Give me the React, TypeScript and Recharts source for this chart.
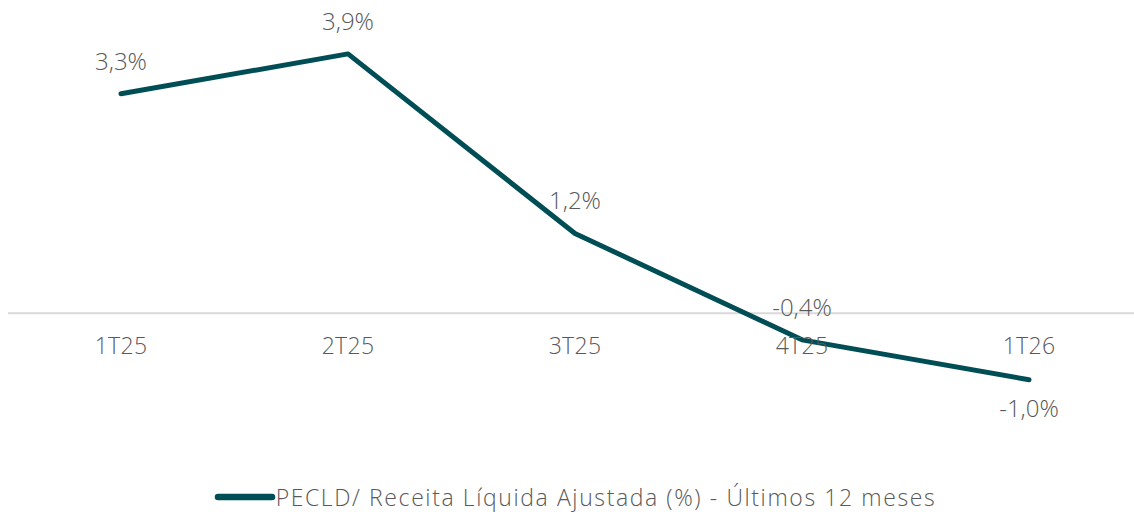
import React from 'react';
import { LineChart, Line, XAxis, YAxis, ReferenceLine, LabelList, Legend } from 'recharts';

const categories = ['1T25', '2T25', '3T25', '4T25', '1T26'];
const values = [3.3, 3.9, 1.2, -0.4, -1.0];
const seriesName = 'PECLD/ Receita Líquida Ajustada (%) - Últimos 12 meses';

const data = categories.map((c, i) => ({ cat: c, v: values[i], base: 0 }));

const FONT = "'Open Sans', sans-serif";
const TEXT = '#595959';
const LINE = '#004E55';

const fmt = (v: number) => v.toFixed(1).replace('.', ',') + '%';

const ValueLabel = (props: any) => {
  const { x, y, value, index } = props;
  const below = index === values.length - 1;
  return (
    <text
      x={x}
      y={below ? y + 37 : y - 24}
      textAnchor="middle"
      fill={TEXT}
      fontFamily={FONT}
      fontWeight={300}
      fontSize={24}
    >
      {fmt(value)}
    </text>
  );
};

const CatLabel = (props: any) => {
  const { x, y, index } = props;
  return (
    <text x={x} y={y + 41} textAnchor="middle" fill={TEXT} fontFamily={FONT} fontWeight={300} fontSize={23} letterSpacing={0.3}>
      {categories[index]}
    </text>
  );
};

const LegendContent = () => (
  <div style={{ display: 'flex', justifyContent: 'center', alignItems: 'center', height: 28 }}>
    <svg width={62} height={10} style={{ marginRight: 0 }}>
      <line x1={4} y1={5} x2={58} y2={5} stroke={LINE} strokeWidth={6.5} strokeLinecap="round" />
    </svg>
    <span style={{ fontFamily: FONT, fontWeight: 300, fontSize: 23, lineHeight: '28px', letterSpacing: 1.6, color: TEXT, whiteSpace: 'nowrap' }}>{seriesName}</span>
  </div>
);

export default function App() {
  return (
    <div style={{ position: 'absolute', left: 0, top: 0, width: 1134, height: 512, overflow: 'hidden', background: '#fff' }}>
      <LineChart width={1142} height={512} data={data} margin={{ top: 14, right: 0, bottom: 71, left: 8 }}>
        <XAxis dataKey="cat" hide padding={{ left: 113, right: 113 }} />
        <YAxis hide domain={[-1.5, 4.5]} />
        <ReferenceLine y={0} stroke="#d9d9d9" strokeWidth={2} />
        <Line dataKey="base" stroke="none" dot={false} legendType="none" isAnimationActive={false}>
          <LabelList dataKey="base" content={CatLabel} />
        </Line>
        <Line
          dataKey="v"
          name={seriesName}
          stroke={LINE}
          strokeWidth={5}
          strokeLinecap="round"
          strokeLinejoin="round"
          dot={false}
          isAnimationActive={false}
        >
          <LabelList dataKey="v" content={ValueLabel} />
        </Line>
        <Legend
          verticalAlign="bottom"
          content={LegendContent}
          wrapperStyle={{ top: 483, left: 8, width: 1134, height: 28 }}
        />
      </LineChart>
    </div>
  );
}
